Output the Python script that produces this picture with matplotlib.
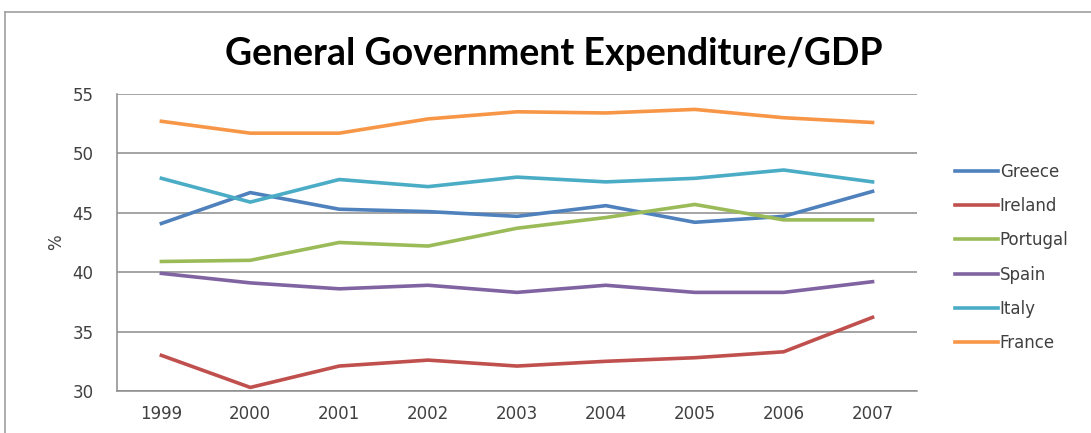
import matplotlib.pyplot as plt
from matplotlib.lines import Line2D

# data
years = ['1999', '2000', '2001', '2002', '2003', '2004', '2005', '2006', '2007']
greece = [44.1, 46.7, 45.3, 45.1, 44.7, 45.6, 44.2, 44.7, 46.8]
ireland = [33.0, 30.3, 32.1, 32.6, 32.1, 32.5, 32.8, 33.3, 36.2]
portugal = [40.9, 41.0, 42.5, 42.2, 43.7, 44.6, 45.7, 44.4, 44.4]
spain = [39.9, 39.1, 38.6, 38.9, 38.3, 38.9, 38.3, 38.3, 39.2]
italy = [47.9, 45.9, 47.8, 47.2, 48.0, 47.6, 47.9, 48.6, 47.6]
france = [52.7, 51.7, 51.7, 52.9, 53.5, 53.4, 53.7, 53.0, 52.6]

series = ['Greece', 'Ireland', 'Portugal', 'Spain', 'Italy', 'France']
values = [greece, ireland, portugal, spain, italy, france]
colors = ['#4F81BD', '#C0504D', '#9BBB59', '#8064A2', '#4BACC6', '#F79646']
y_ticks = [30, 35, 40, 45, 50, 55]

fig = plt.figure(figsize=(10.91, 4.33), dpi=100)
ax = fig.add_axes([0.1072, 0.097, 0.7333, 0.686])

x = range(len(years))
for name, vals, c in zip(series, values, colors):
    ax.plot(x, vals, color=c, linewidth=2.6, label=name, solid_joinstyle='round')

ax.set_xlim(-0.5, len(years) - 0.5)
ax.set_ylim(30, 55)
ax.set_yticks(y_ticks)
ax.set_xticks(list(x))
ax.set_xticklabels(years)
ax.yaxis.grid(True, color='#8c8c8c', linewidth=1.1)
ax.set_axisbelow(True)
for s in ['top', 'right']:
    ax.spines[s].set_visible(False)
for s in ['left', 'bottom']:
    ax.spines[s].set_color('#8c8c8c')
    ax.spines[s].set_linewidth(1.1)
ax.tick_params(length=0, labelsize=12, labelcolor='#404040', pad=10)
ax.tick_params(axis='y', pad=17)
ax.set_ylabel('%', fontsize=12, color='#404040', labelpad=5)

fig.suptitle('General Government Expenditure/GDP', x=0.508, y=0.915,
             fontsize=27, fontweight='bold', family='Lato', color='black')

handles = [Line2D([], [], color=c, linewidth=2.6) for c in colors]
fig.legend(handles, series, loc='upper left', bbox_to_anchor=(0.869, 0.64),
           frameon=False, fontsize=12, handlelength=2.6, handletextpad=0.1,
           labelspacing=0.98, borderaxespad=0, labelcolor='#404040')

# chart area border (top and left)
fig.add_artist(Line2D([0.005, 1.0], [0.972, 0.972], color='#a0a0a0', linewidth=1.2))
fig.add_artist(Line2D([0.005, 0.005], [0.0, 0.972], color='#a0a0a0', linewidth=1.2))

fig.savefig('out.png', dpi=100)
